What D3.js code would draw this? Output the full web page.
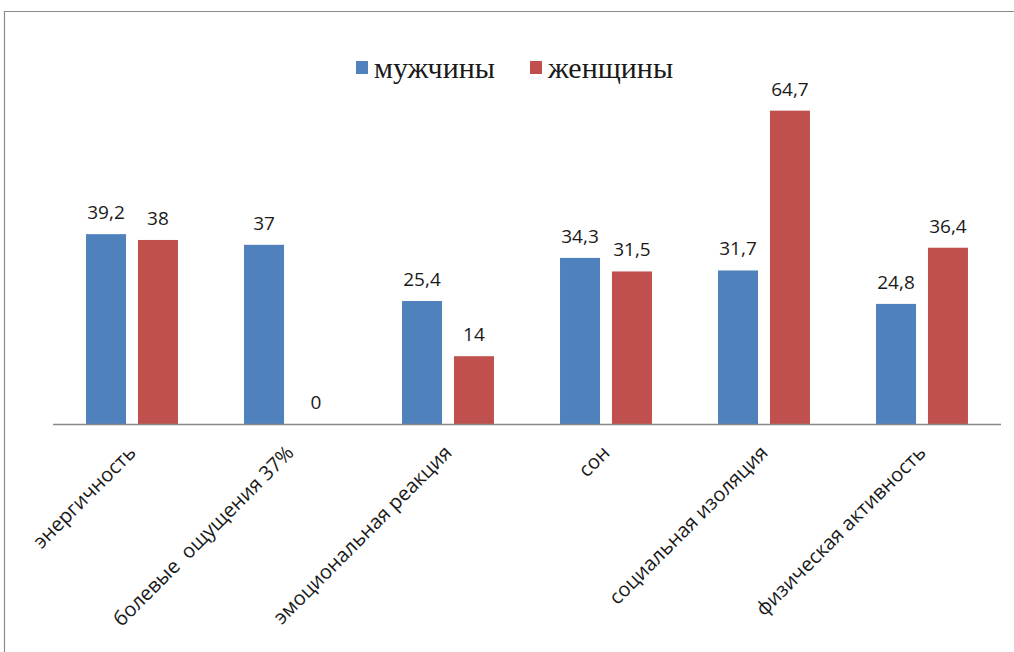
<!DOCTYPE html>
<html>
<head>
<meta charset="utf-8">
<script src="https://cdn.jsdelivr.net/npm/d3@7"></script>
<style>
  html, body { margin: 0; background: #fff; overflow: hidden; }
  svg { display: block; }
</style>
</head>
<body>
<svg id="chart" width="1014" height="652"></svg>
<script>
// data
const categories = ["энергичность", "болевые  ощущения 37%", "эмоциональная реакция", "сон", "социальная изоляция", "физическая активность"];
const seriesNames = ["мужчины", "женщины"];
const men = [39.2, 37, 25.4, 34.3, 31.7, 24.8];
const women = [38, 0, 14, 31.5, 64.7, 36.4];
const colors = ["#4F81BD", "#C0504D"];

const svg = d3.select("svg#chart");

// outer frame: only top and left edges are inside the screenshot
svg.append("path")
  .attr("d", "M4.5,652 V11.5 H1014")
  .attr("fill", "none")
  .attr("stroke", "#8c8c8c")
  .attr("stroke-width", 1.2);

const baseY = 424;
const x0 = d3.scaleBand()
  .domain(categories)
  .range([53, 1001])
  .paddingInner(0.418)
  .paddingOuter(0.209);

const x1 = d3.scaleBand()
  .domain(seriesNames)
  .range([0, x0.bandwidth()])
  .paddingInner(0.23);

const y = d3.scaleLinear().domain([0, 70]).range([baseY, 85]);

const rows = categories.map((c, i) => ({
  cat: c,
  vals: [{ s: seriesNames[0], v: men[i] }, { s: seriesNames[1], v: women[i] }]
}));

const fmt = v => String(v).replace(".", ",");

const groups = svg.append("g").selectAll("g.group")
  .data(rows)
  .enter()
  .append("g")
  .attr("class", "group")
  .attr("transform", d => `translate(${x0(d.cat)},0)`);

groups.selectAll("rect")
  .data(d => d.vals)
  .enter()
  .append("rect")
  .attr("x", d => x1(d.s))
  .attr("y", d => y(d.v))
  .attr("width", x1.bandwidth())
  .attr("height", d => y(0) - y(d.v))
  .attr("fill", (d, i) => colors[i]);

groups.selectAll("text.val")
  .data(d => d.vals)
  .enter()
  .append("text")
  .attr("class", "val")
  .attr("x", d => x1(d.s) + x1.bandwidth() / 2)
  .attr("y", d => y(d.v) - 15)
  .attr("text-anchor", "middle")
  .style("font-family", "'Open Sans', sans-serif")
  .style("font-size", "19px")
  .style("fill", "#1a1a1a")
  .text(d => fmt(d.v));

// baseline
svg.append("line")
  .attr("x1", 53).attr("x2", 1001)
  .attr("y1", baseY + 0.5).attr("y2", baseY + 0.5)
  .attr("stroke", "#888")
  .attr("stroke-width", 1.5);

// category labels, rotated
svg.append("g").selectAll("text.cat")
  .data(categories)
  .enter()
  .append("text")
  .attr("class", "cat")
  .attr("transform", d => `translate(${x0(d) + x0.bandwidth() / 2 + 5},${baseY + 30}) rotate(-45)`)
  .attr("text-anchor", "end")
  .style("font-family", "'Open Sans', sans-serif")
  .style("font-size", "20px")
  .style("fill", "#1a1a1a")
  .style("white-space", "pre")
  .text(d => d);

// legend
const legendX = [356, 530];
const legend = svg.append("g").selectAll("g.leg")
  .data(seriesNames)
  .enter()
  .append("g")
  .attr("transform", (d, i) => `translate(${legendX[i]},61)`);

legend.append("rect")
  .attr("width", 12).attr("height", 13)
  .attr("fill", (d, i) => colors[i]);

legend.append("text")
  .attr("x", 18)
  .attr("y", 17)
  .style("font-family", "'Liberation Serif', serif")
  .style("font-size", "30px")
  .style("fill", "#1a1a1a")
  .text(d => d);
</script>
</body>
</html>
